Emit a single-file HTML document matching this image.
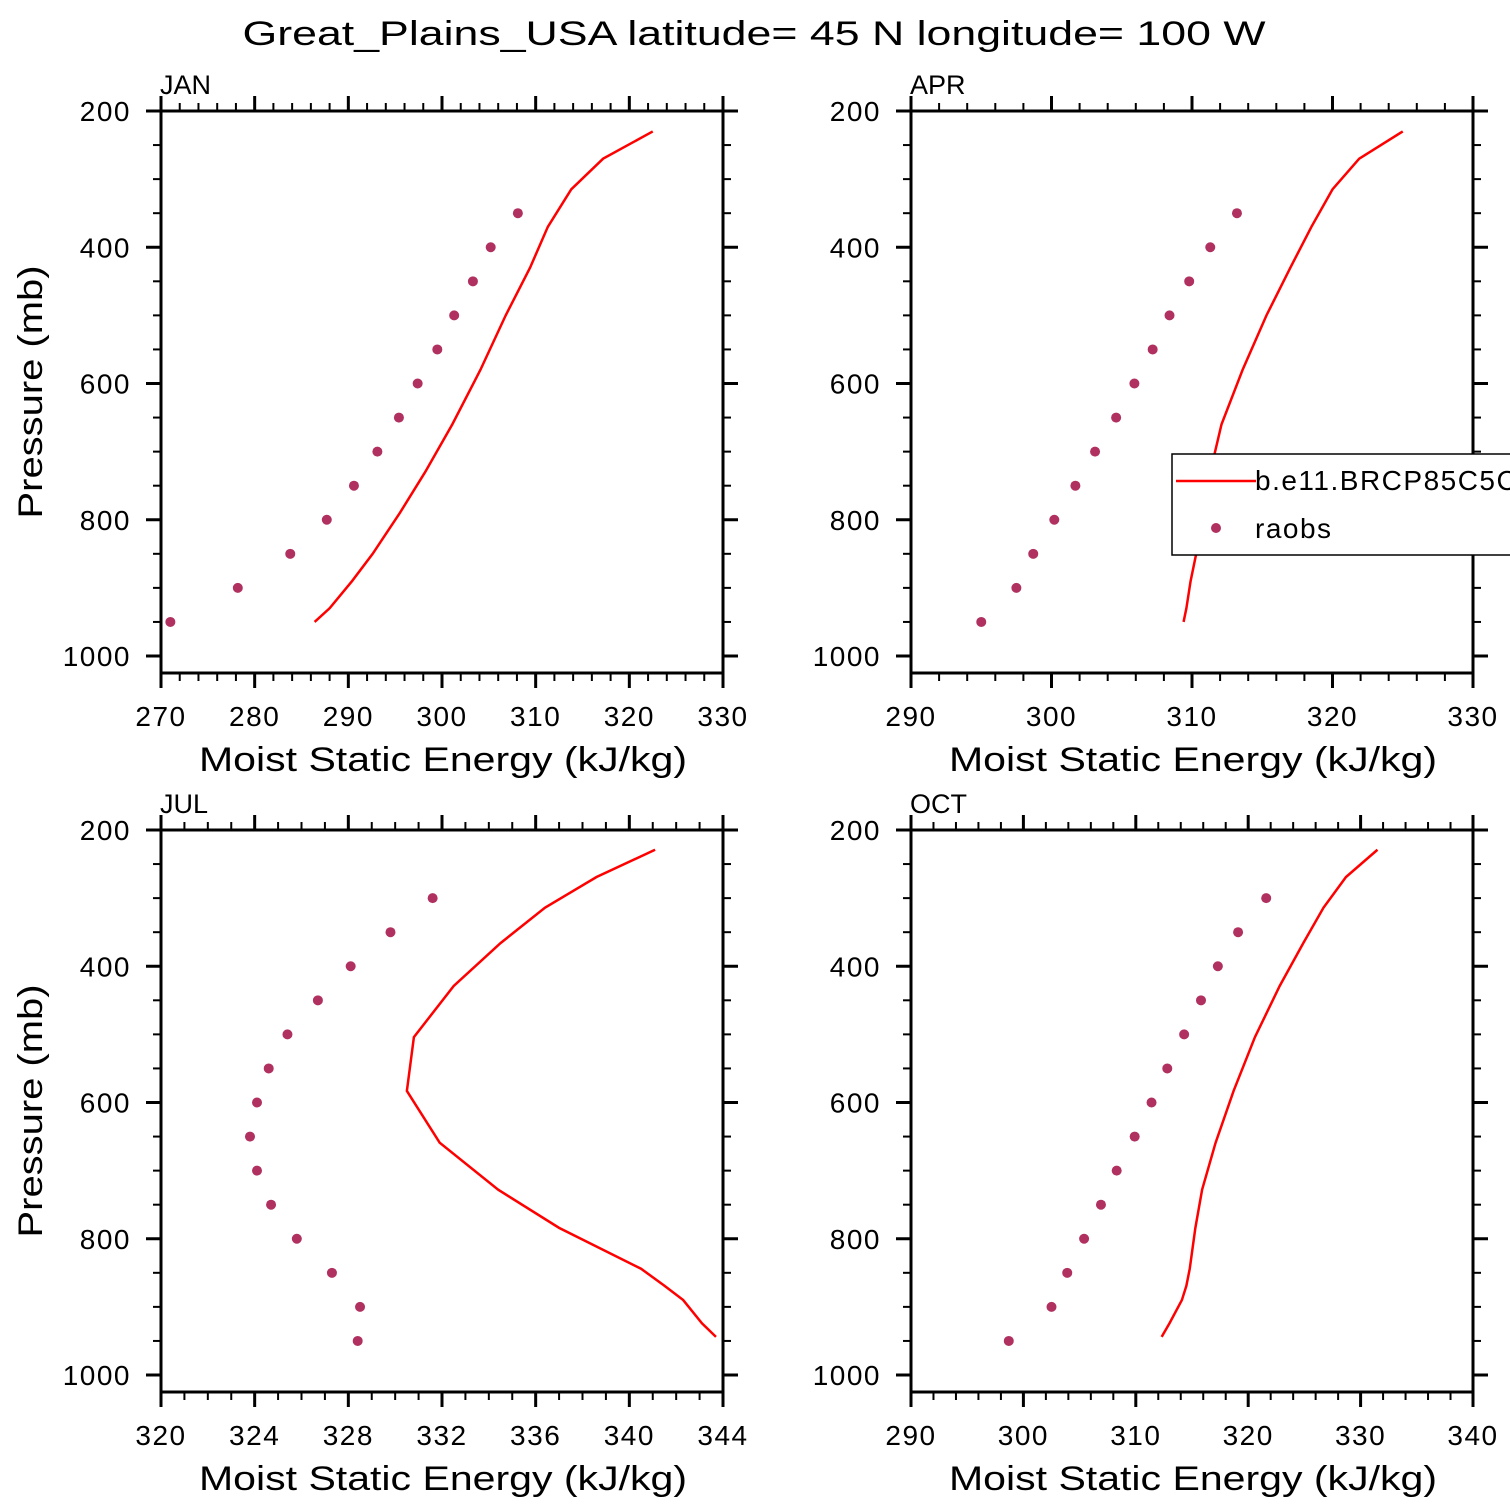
<!DOCTYPE html>
<html><head><meta charset="utf-8"><style>
html,body{margin:0;padding:0;background:#fff;overflow:hidden}
svg{display:block;font-family:"Liberation Sans",sans-serif}
</style></head><body>
<svg id="c" width="1510" height="1510" viewBox="0 0 1510 1510">
<text x="754" y="45" font-size="34" text-anchor="middle" textLength="1023" lengthAdjust="spacingAndGlyphs">Great_Plains_USA  latitude= 45 N longitude= 100 W</text>
</svg>
<script>
const obsP=[350,400,450,500,550,600,650,700,750,800,850,900,950];
const obsPJul=[300,350,400,450,500,550,600,650,700,750,800,850,900,950];
const janObs=[308.1,305.2,303.3,301.3,299.5,297.4,295.4,293.1,290.6,287.7,283.8,278.2,271.0];
const aprObs=[313.2,311.3,309.8,308.4,307.2,305.9,304.6,303.1,301.7,300.2,298.7,297.5,295.0];
const julObs=[331.6,329.8,328.1,326.7,325.4,324.6,324.1,323.8,324.1,324.7,325.8,327.3,328.5,328.4];
const octObs=[321.6,319.1,317.3,315.8,314.3,312.8,311.4,309.9,308.3,306.9,305.4,303.9,302.5,298.7];
const modP=[230,270,315,370,430,500,580,660,730,790,850,890,930,950];
const janMod=[322.5,317.2,313.8,311.3,309.4,306.8,304.1,301.1,298.2,295.5,292.6,290.4,288.0,286.4];
const aprMod=[325.0,321.9,320.0,318.5,317.0,315.3,313.6,312.1,311.3,310.8,310.3,309.9,309.6,309.4];
const modP2=[229,269,314,366,429,504,583,659,728,784,844,869,890,924,944];
const julMod=[341.1,338.6,336.4,334.5,332.5,330.8,330.5,331.9,334.4,337.0,340.5,341.5,342.3,343.1,343.7];
const octMod=[331.5,328.7,326.7,324.9,322.8,320.6,318.7,317.1,315.9,315.3,314.8,314.5,314.1,313.0,312.3];
const yTicks=[200,400,600,800,1000];

const NS='http://www.w3.org/2000/svg';
const svg=document.getElementById('c');
function mk(tag,attrs,parent){const e=document.createElementNS(NS,tag);for(const k in attrs)e.setAttribute(k,attrs[k]);(parent||svg).appendChild(e);return e;}

const panels=[
 {name:'jan',label:'JAN',x0:161,y0:111,xmin:270,xmax:330,major:10,minor:2,oP:obsP,obs:janObs,mP:modP,mod:janMod},
 {name:'apr',label:'APR',x0:911,y0:111,xmin:290,xmax:330,major:10,minor:2,oP:obsP,obs:aprObs,mP:modP,mod:aprMod},
 {name:'jul',label:'JUL',x0:161,y0:830,xmin:320,xmax:344,major:4,minor:1,oP:obsPJul,obs:julObs,mP:modP2,mod:julMod},
 {name:'oct',label:'OCT',x0:911,y0:830,xmin:290,xmax:340,major:10,minor:2,oP:obsPJul,obs:octObs,mP:modP2,mod:octMod}
];
const W=562,H=562;
panels.forEach(p=>{
 const g=mk('g',{});
 
 
 const xs=v=>p.x0+(v-p.xmin)/(p.xmax-p.xmin)*W;
 const ys=v=>p.y0+(v-200)*545/800;
 const pl=mk('polyline',{points:p.mod.map((v,i)=>xs(v)+','+ys(p.mP[i])).join(' '),fill:'none',stroke:'#ff0000','stroke-width':2.5},g);
 
 
 p.obs.forEach((v,i)=>{
  const c=mk('circle',{cx:xs(v),cy:ys(p.oP[i]),r:5,fill:'#b03060'},g);
  
  
 });
 const fr=mk('rect',{x:p.x0,y:p.y0,width:W,height:H,fill:'none',stroke:'#000','stroke-width':3},g);
 
 
 const n=Math.round((p.xmax-p.xmin)/p.minor);
 for(let k=0;k<=n;k++){
  const v=p.xmin+k*p.minor, x=xs(v), maj=Math.abs(v/p.major-Math.round(v/p.major))<1e-6, L=maj?15:8;
  mk('line',{x1:x,y1:p.y0+H,x2:x,y2:p.y0+H+L,stroke:'#000','stroke-width':maj?3:2},g);
  mk('line',{x1:x,y1:p.y0,x2:x,y2:p.y0-L,stroke:'#000','stroke-width':maj?3:2},g);
  if(maj){const t=mk('text',{x:x,y:p.y0+H+53,'font-size':28,'letter-spacing':1.5,'text-anchor':'middle'},g);t.textContent=v;
   }
 }
 for(let v=250;v<=1000;v+=50){
  const y=ys(v), maj=v%200===0, L=maj?15:8;
  mk('line',{x1:p.x0,y1:y,x2:p.x0-L,y2:y,stroke:'#000','stroke-width':maj?3:2},g);
  mk('line',{x1:p.x0+W,y1:y,x2:p.x0+W+L,y2:y,stroke:'#000','stroke-width':maj?3:2},g);
 }
 mk('line',{x1:p.x0,y1:p.y0,x2:p.x0-15,y2:p.y0,stroke:'#000','stroke-width':3},g);
 mk('line',{x1:p.x0+W,y1:p.y0,x2:p.x0+W+15,y2:p.y0,stroke:'#000','stroke-width':3},g);
 yTicks.forEach(v=>{
  const t=mk('text',{x:p.x0-30,y:ys(v)+10,'font-size':28,'letter-spacing':1.5,'text-anchor':'end'},g);t.textContent=v;
  
 });
 const lb=mk('text',{x:p.x0-1,y:p.y0-17,'font-size':27},g);lb.textContent=p.label;
 
 const xt=mk('text',{x:p.x0+282,y:p.y0+H+98,'font-size':34,'text-anchor':'middle',textLength:488,lengthAdjust:'spacingAndGlyphs'},g);
 xt.textContent='Moist Static Energy (kJ/kg)';
 
 if(p.x0<500){
  const cy=p.y0+281;
  const yt=mk('text',{x:0,y:0,'font-size':34,'text-anchor':'middle',textLength:253,lengthAdjust:'spacingAndGlyphs',transform:`translate(42,${cy}) rotate(-90)`},g);
  yt.textContent='Pressure (mb)';
  
 }
});
const lg=mk('g',{});


mk('rect',{x:1172,y:454,width:360,height:101,fill:'#fff',stroke:'#000','stroke-width':1.5},lg);
mk('line',{x1:1176,y1:481,x2:1256,y2:481,stroke:'#ff0000','stroke-width':2.5},lg);
mk('circle',{cx:1216,cy:528,r:5,fill:'#b03060'},lg);
const l1=mk('text',{x:1255,y:490,'font-size':28,'letter-spacing':1.5},lg);l1.textContent='b.e11.BRCP85C5CNBDRD';

const l2=mk('text',{x:1255,y:538,'font-size':28,'letter-spacing':1.5},lg);l2.textContent='raobs';

</script>
</body></html>
